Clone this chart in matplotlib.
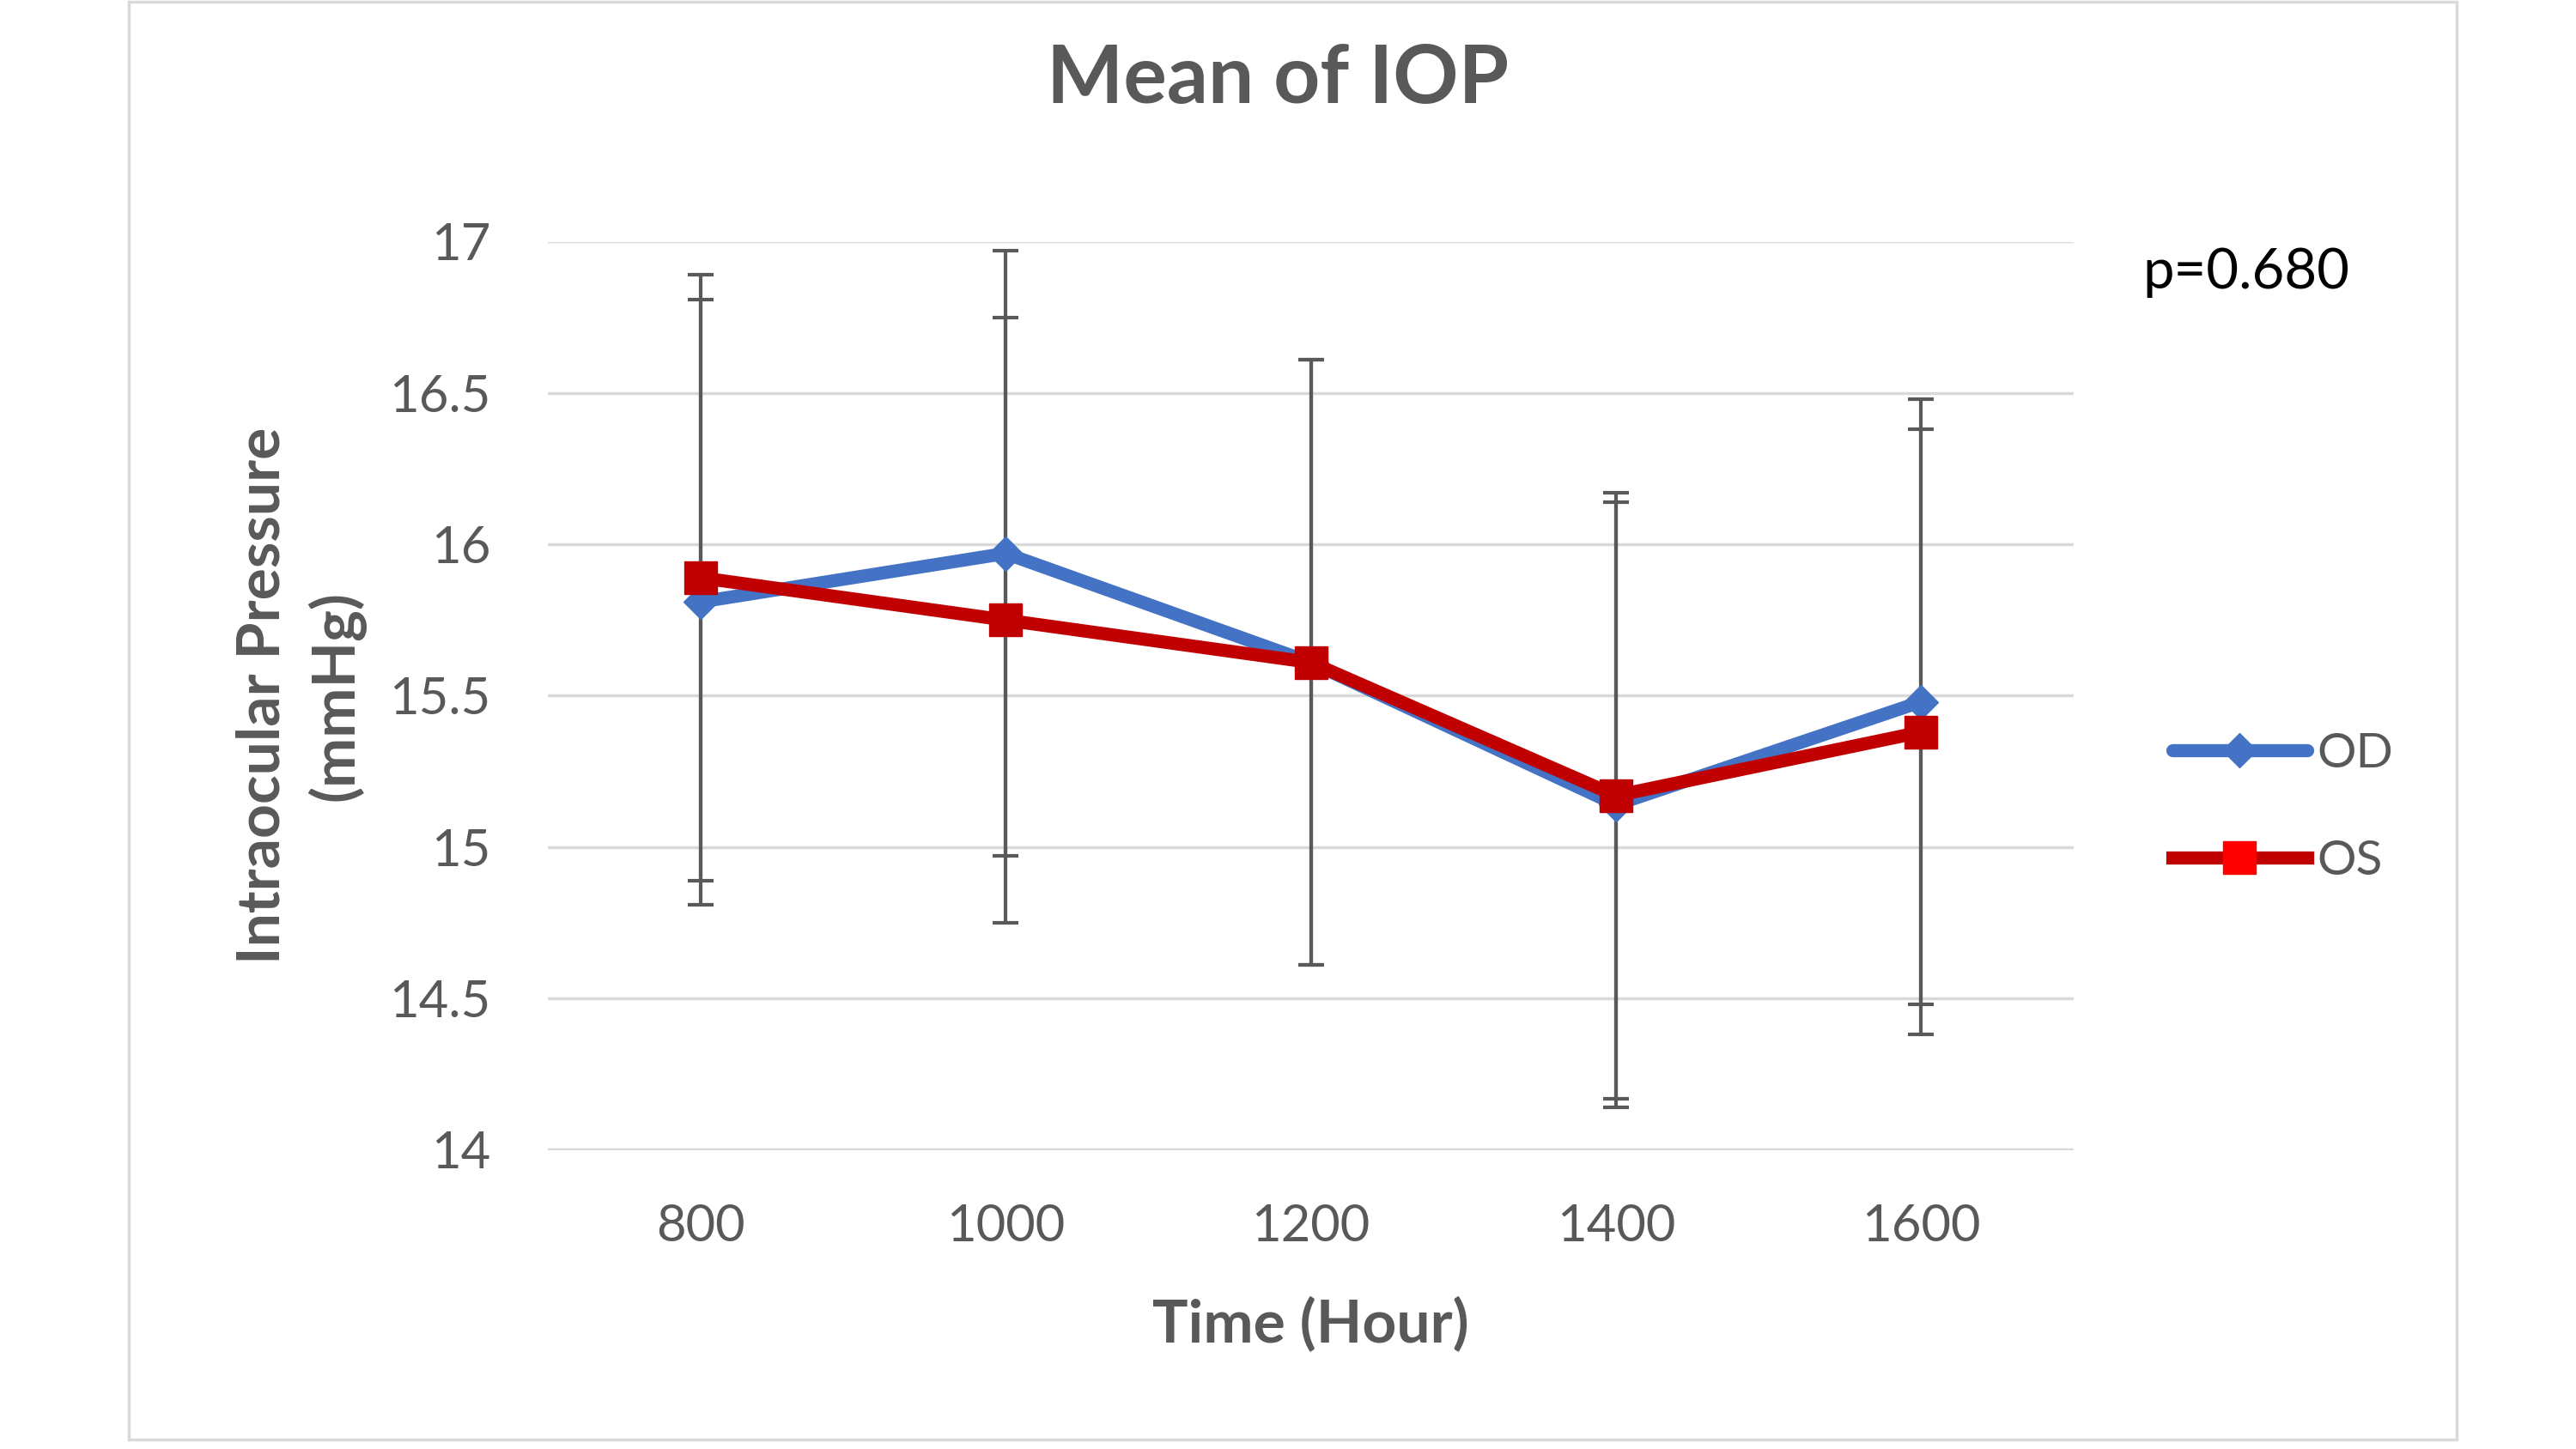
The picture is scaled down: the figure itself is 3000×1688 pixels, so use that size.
import matplotlib
matplotlib.use("Agg")
import matplotlib.pyplot as plt
from matplotlib.patches import Rectangle
from matplotlib.ticker import FuncFormatter

# ---- data ----
hours = ["800", "1000", "1200", "1400", "1600"]
od_mean = [15.81, 15.97, 15.61, 15.14, 15.48]
od_sd = [1.00, 1.00, 1.00, 1.00, 1.00]
os_mean = [15.89, 15.75, 15.61, 15.17, 15.38]
os_sd = [1.00, 1.00, 1.00, 1.00, 1.00]
series_names = ["OD", "OS"]
title_text = "Mean of IOP"
x_label = "Time (Hour)"
y_label = "Intraocular Pressure\n(mmHg)"
p_text = "p=0.680"
y_ticks = [14, 14.5, 15, 15.5, 16, 16.5, 17]

plt.rcParams["font.family"] = ["Lato", "DejaVu Sans"]

W, H = 3000, 1688
fig = plt.figure(figsize=(W / 100, H / 100), dpi=100)
fig.patch.set_facecolor("white")

# outer chart border
fig.patches.append(Rectangle((150 / W, 1 - 1677 / H), (2861 - 150) / W, (1677 - 2) / H,
                             transform=fig.transFigure, fill=False,
                             edgecolor="#d9d9d9", linewidth=2.5))

ax_l, ax_r, ax_t, ax_b = 638, 2415, 281.5, 1339.5
ax = fig.add_axes([ax_l / W, 1 - ax_b / H, (ax_r - ax_l) / W, (ax_b - ax_t) / H])

x = list(range(len(hours)))
grey = "#595959"
blue = "#4472C4"
red = "#C00000"

ax.errorbar(x, od_mean, yerr=od_sd, fmt="none", ecolor=grey, elinewidth=3.0,
            capsize=11, capthick=3.0, zorder=2)
ax.errorbar(x, os_mean, yerr=os_sd, fmt="none", ecolor=grey, elinewidth=3.0,
            capsize=11, capthick=3.0, zorder=2)
ax.plot(x, od_mean, color=blue, lw=11, marker="D", ms=20, mfc=blue, mec=blue,
        label=series_names[0], zorder=3, solid_joinstyle="round", solid_capstyle="round")
ax.plot(x, os_mean, color=red, lw=11, marker="s", ms=28, mfc=red, mec=red,
        label=series_names[1], zorder=4, solid_joinstyle="miter")

ax.set_xlim(-0.5, len(hours) - 0.5)
ax.set_ylim(14, 17)
ax.set_yticks(y_ticks)
ax.yaxis.set_major_formatter(FuncFormatter(lambda v, p: f"{v:g}"))
ax.set_xticks(x)
ax.set_xticklabels(hours)
ax.grid(axis="y", color="#d9d9d9", lw=2.5, zorder=0)
ax.set_axisbelow(True)
for s in ax.spines.values():
    s.set_visible(False)
ax.tick_params(axis="both", length=0, labelsize=43, colors=grey)
ax.tick_params(axis="y", pad=48)
ax.tick_params(axis="x", pad=45)

ax.set_xlabel(x_label, fontsize=50, fontweight="bold", color=grey, va="baseline")
ax.xaxis.set_label_coords(0.5, (ax_b - 1564) / (ax_b - ax_t))
ax.set_ylabel(y_label, fontsize=50, fontweight="bold", color=grey, va="center",
              ha="center", linespacing=1.35)
ax.yaxis.set_label_coords((350 - ax_l) / (ax_r - ax_l), 0.5)

fig.text(1488 / W, 1 - 120 / H, title_text, fontsize=68, fontweight="bold",
         color=grey, ha="center", va="baseline")
fig.text(2495 / W, 1 - 336 / H, p_text, fontsize=47, color="black",
         ha="left", va="baseline")

leg = fig.legend(loc="center left", bbox_to_anchor=(2530 / W, 1 - 941 / H),
                 frameon=False, fontsize=41, labelcolor=grey, borderpad=0,
                 borderaxespad=0, handlelength=2.75, handletextpad=0.2,
                 labelspacing=1.3)
for h in leg.legend_handles:
    if h.get_marker() == "s":
        h.set_markerfacecolor("#FF0000")
        h.set_markeredgecolor("#FF0000")

fig.savefig("out.png", dpi=100, facecolor="white")
